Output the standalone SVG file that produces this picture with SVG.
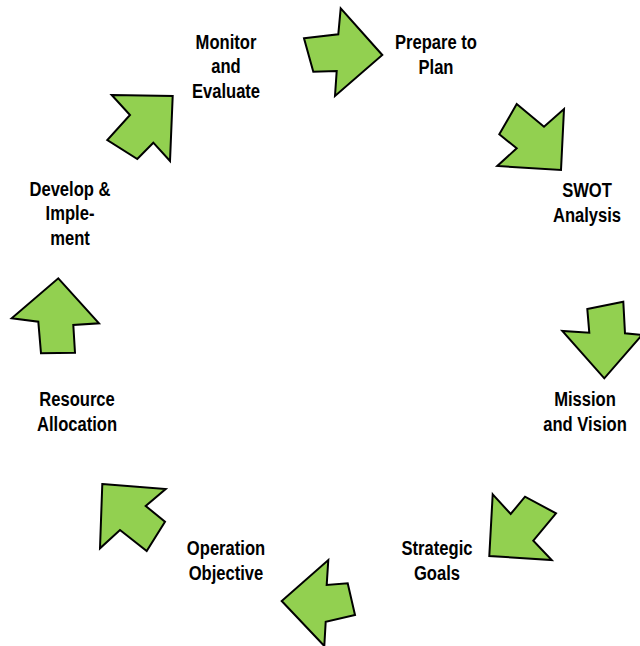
<svg xmlns="http://www.w3.org/2000/svg" width="640" height="646" viewBox="0 0 640 646">
  <style>
    .arrow { fill: #92d050; stroke: #000; stroke-width: 2; stroke-linejoin: miter; }
    .label { font-family: "Liberation Sans", Arial, sans-serif; font-weight: bold; font-size: 21px; fill: #000; text-anchor: middle; }
  </style>
  <rect width="640" height="646" fill="#fff"/>

  <!-- cycle arrows -->
  <g id="connectors">
    <polygon class="arrow" points="304,38.3 338.3,34.3 340.7,8.3 382.3,55 335,96 336.7,71 313.3,71.7"/>
    <polygon class="arrow" points="516.7,104 544,126.7 564,109 561,170 497.3,166 516.7,148.3 499.3,134.3"/>
    <polygon class="arrow" points="587.3,309 623.3,301.7 625,333.3 642,335 604.3,378.3 562.3,331 589.3,332.7"/>
    <polygon class="arrow" points="492.7,494.3 510.7,514 525,496.7 556,513.3 533.3,540.7 551.7,560 489.3,556"/>
    <polygon class="arrow" points="328.3,560 326.7,585 347.7,583.3 355,615 325.7,621.7 324.3,646 281.7,601"/>
    <polygon class="arrow" points="102.3,484 165.7,489 145.7,506 165,521.7 146.7,551 120,530 100,548.3"/>
    <polygon class="arrow" points="58.3,278.3 99,323.3 73.3,325 75,352.7 41,353.3 38.3,321.7 11.7,318.3"/>
    <polygon class="arrow" points="111.7,95 172.7,96 170,161 153.3,142.7 137.3,159 107.3,140 130,115"/>
  </g>

  <!-- stage labels (condensed horizontally) -->
  <g id="prepare">
    <text class="label" transform="translate(436,49) scale(0.79,1)">Prepare to</text>
    <text class="label" transform="translate(436,73.5) scale(0.79,1)">Plan</text>
  </g>
  <g id="swot">
    <text class="label" transform="translate(587,197) scale(0.79,1)">SWOT</text>
    <text class="label" transform="translate(587,221.5) scale(0.79,1)">Analysis</text>
  </g>
  <g id="mission">
    <text class="label" transform="translate(585,406) scale(0.79,1)">Mission</text>
    <text class="label" transform="translate(585,430.5) scale(0.79,1)">and Vision</text>
  </g>
  <g id="goals">
    <text class="label" transform="translate(437,555) scale(0.79,1)">Strategic</text>
    <text class="label" transform="translate(437,579.5) scale(0.79,1)">Goals</text>
  </g>
  <g id="objective">
    <text class="label" transform="translate(226,555) scale(0.79,1)">Operation</text>
    <text class="label" transform="translate(226,579.5) scale(0.79,1)">Objective</text>
  </g>
  <g id="resource">
    <text class="label" transform="translate(77,406) scale(0.79,1)">Resource</text>
    <text class="label" transform="translate(77,430.5) scale(0.79,1)">Allocation</text>
  </g>
  <g id="develop">
    <text class="label" transform="translate(70,195.5) scale(0.79,1)">Develop &amp;</text>
    <text class="label" transform="translate(70,220) scale(0.79,1)">Imple-</text>
    <text class="label" transform="translate(70,244.5) scale(0.79,1)">ment</text>
  </g>
  <g id="monitor">
    <text class="label" transform="translate(226,48.5) scale(0.79,1)">Monitor</text>
    <text class="label" transform="translate(226,73) scale(0.79,1)">and</text>
    <text class="label" transform="translate(226,97.5) scale(0.79,1)">Evaluate</text>
  </g>
</svg>
